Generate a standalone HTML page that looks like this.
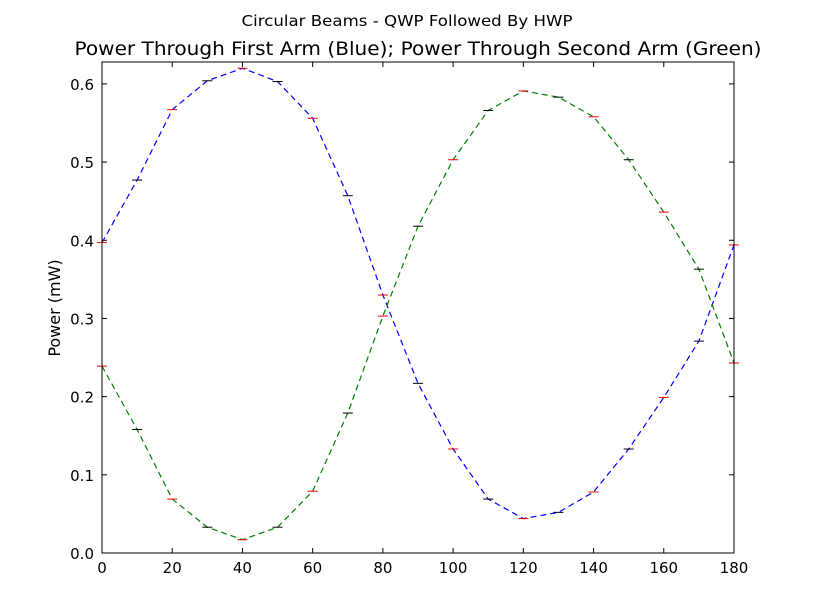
<!DOCTYPE html>
<html><head><meta charset="utf-8"><style>
body{margin:0;background:#fff;}
svg{display:block;font-family:"DejaVu Sans","Liberation Sans",sans-serif;}
</style></head><body>
<svg id="chart" width="815" height="615" viewBox="0 0 815 615" xmlns="http://www.w3.org/2000/svg">
<rect width="815" height="615" fill="#fff"/>
<text x="407" y="26" font-size="15" text-anchor="middle" textLength="331" lengthAdjust="spacingAndGlyphs">Circular Beams - QWP Followed By HWP</text>
<text x="418" y="55" font-size="19" text-anchor="middle" textLength="687" lengthAdjust="spacingAndGlyphs">Power Through First Arm (Blue); Power Through Second Arm (Green)</text>
<text transform="translate(60,308) rotate(-90)" font-size="16" text-anchor="middle">Power (mW)</text>
<g id="plot"></g>
<rect x="102" y="62" width="632" height="491" fill="none" stroke="#000" stroke-width="1"/>
</svg>
<script>
const angles=[0,10,20,30,40,50,60,70,80,90,100,110,120,130,140,150,160,170,180];
const blueArm=[0.397,0.477,0.567,0.604,0.620,0.603,0.556,0.457,0.330,0.217,0.133,0.069,0.044,0.052,0.078,0.133,0.199,0.271,0.394];
const greenArm=[0.239,0.158,0.069,0.033,0.017,0.033,0.079,0.179,0.303,0.418,0.503,0.566,0.591,0.583,0.558,0.503,0.436,0.363,0.243];
const xTicks=[0,20,40,60,80,100,120,140,160,180];
const yTicks=[0.0,0.1,0.2,0.3,0.4,0.5,0.6];
const X0=102,X1=734,Y0=553,Y1=62,XMAX=180,YMAX=0.628;
const sx=v=>X0+(v/XMAX)*(X1-X0);
const sy=v=>Y0-(v/YMAX)*(Y0-Y1);
const NS="http://www.w3.org/2000/svg";
const g=document.getElementById('plot');
function mk(t,a){const e=document.createElementNS(NS,t);for(const k in a)e.setAttribute(k,a[k]);g.appendChild(e);return e;}
xTicks.forEach(v=>{
  const x=sx(v);
  const t1=mk('line',{x1:x,x2:x,y1:Y0,y2:Y0-5,stroke:'#000'});
  
  
  const t2=mk('line',{x1:x,x2:x,y1:Y1,y2:Y1+5,stroke:'#000'});
  
  
  const l=mk('text',{x:x,y:Y0+20,'font-size':15,'text-anchor':'middle'});l.textContent=v;
  
  
});
yTicks.forEach(v=>{
  const y=sy(v);
  const t1=mk('line',{x1:X0,x2:X0+5,y1:y,y2:y,stroke:'#000'});
  
  
  const t2=mk('line',{x1:X1,x2:X1-5,y1:y,y2:y,stroke:'#000'});
  
  
  const l=mk('text',{x:X0-8,y:y+6,'font-size':15,'text-anchor':'end'});l.textContent=v.toFixed(1);
  
  
});
function series(vals,color,name){
  const p=mk('polyline',{points:angles.map((a,i)=>sx(a)+','+sy(vals[i])).join(' '),fill:'none',stroke:color,'stroke-width':1.2,'stroke-dasharray':'6,4'});
  
  
  angles.forEach((a,i)=>{
    const c=mk('line',{x1:sx(a)-5,x2:sx(a)+5,y1:sy(vals[i]),y2:sy(vals[i]),stroke:i%2?'#000':'#e00','stroke-width':1});
    
    
  });
}
series(blueArm,'#0000ff','blue-arm');
series(greenArm,'#007f00','green-arm');
</script>
</body></html>
